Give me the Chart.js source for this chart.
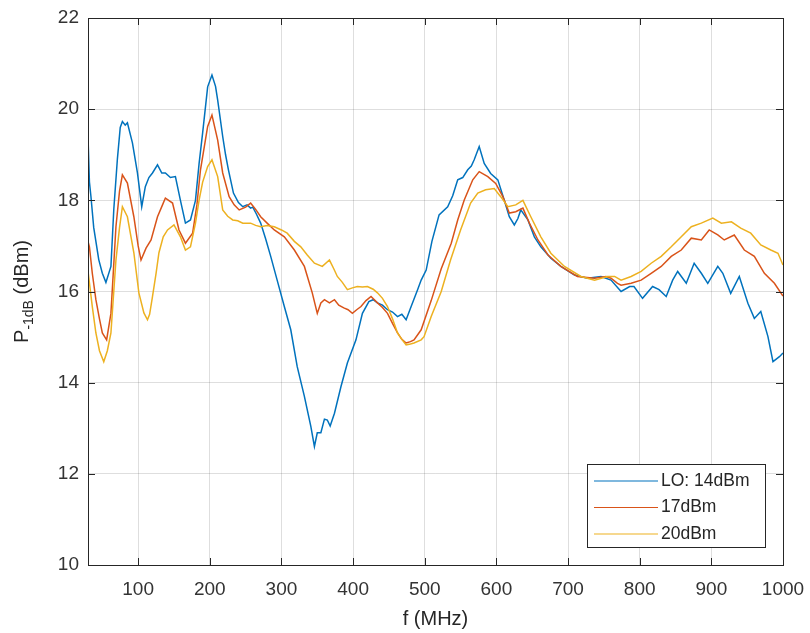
<!DOCTYPE html>
<html>
<head>
<meta charset="utf-8">
<script src="https://cdn.jsdelivr.net/npm/chart.js@4"></script>
<style>
  html, body { margin: 0; padding: 0; background: #fff; }
  #wrap { width: 810px; height: 633px; }
</style>
</head>
<body>
<div id="wrap"><canvas id="p1dbChart" width="810" height="633"></canvas></div>
<script>
// measured P-1dB vs frequency for three LO drive levels
var seriesLabels = ["LO: 14dBm", "17dBm", "20dBm"];
var seriesColors = ["#0072BD", "#D95319", "#EDB120"];

var freqLO14 = [30,32,34,38,45,50,55,62,66,71,75,78,82,85,92,99,105,110,115,120,127,133,138,145,152,159,166,173,180,185,190,197,203,208,211,218,222,226,233,240,246,252,257,260,265,271,278,285,294,304,313,322,332,341,346,350,355,360,364,368,374,383,392,404,413,422,428,434,441,448,455,462,468,474,481,490,495,502,510,520,532,539,546,553,560,565,569,576,583,592,602,611,618,625,630,634,644,653,662,676,690,709,727,746,760,774,786,792,804,818,827,837,846,853,865,876,886,895,909,916,927,939,951,960,969,979,986,995,1000];
var pLO14 = [19.4,18.4,18.1,17.4,16.7,16.4,16.2,16.55,17.8,18.9,19.6,19.73,19.65,19.7,19.26,18.6,17.86,18.3,18.5,18.6,18.78,18.6,18.6,18.5,18.52,18.0,17.5,17.57,18.0,18.8,19.48,20.49,20.75,20.5,20.2,19.4,19.0,18.67,18.16,17.95,17.86,17.9,17.83,17.85,17.7,17.5,17.15,16.77,16.25,15.67,15.16,14.35,13.7,13.04,12.6,12.9,12.9,13.2,13.18,13.05,13.33,13.91,14.43,14.94,15.52,15.78,15.82,15.75,15.7,15.6,15.55,15.45,15.5,15.38,15.67,16.04,16.25,16.47,17.1,17.68,17.86,18.1,18.45,18.5,18.67,18.75,18.89,19.18,18.81,18.59,18.45,18.0,17.64,17.46,17.6,17.79,17.57,17.2,16.98,16.73,16.55,16.36,16.29,16.33,16.25,16.0,16.11,16.11,15.85,16.11,16.04,15.89,16.25,16.44,16.18,16.62,16.4,16.18,16.55,16.4,15.96,16.33,15.74,15.41,15.56,15.01,14.46,14.57,14.65];

var freqLO17 = [30,32,36,41,46,50,56,62,69,74,78,85,94,100,104,111,118,127,134,138,148,157,166,176,182,187,197,203,211,218,227,234,241,250,257,264,271,280,290,304,318,332,343,350,355,360,367,374,380,387,393,399,405,411,418,425,434,441,448,455,462,468,474,480,485,495,509,523,537,546,555,567,576,588,599,609,618,627,637,646,658,672,690,713,737,753,760,769,774,788,802,816,830,844,858,872,886,897,909,918,932,946,960,974,988,1000];
var pLO17 = [17.1,16.98,16.4,15.82,15.4,15.09,14.94,15.52,17.42,18.2,18.56,18.38,17.64,17.0,16.69,16.95,17.13,17.64,17.9,18.05,17.94,17.35,17.06,17.28,17.9,18.67,19.62,19.87,19.32,18.6,18.08,17.9,17.79,17.85,17.94,17.8,17.64,17.5,17.35,17.2,16.91,16.55,15.97,15.52,15.75,15.82,15.75,15.82,15.7,15.64,15.6,15.52,15.6,15.67,15.8,15.89,15.75,15.65,15.52,15.3,15.09,14.95,14.87,14.9,14.94,15.16,15.8,16.5,17.06,17.57,18.0,18.45,18.63,18.52,18.37,18.08,17.72,17.75,17.83,17.5,17.13,16.8,16.55,16.33,16.29,16.33,16.29,16.18,16.14,16.18,16.25,16.4,16.55,16.77,16.91,17.17,17.13,17.35,17.24,17.13,17.24,16.91,16.77,16.4,16.18,15.9];

var freqLO20 = [30,36,41,46,52,57,62,69,74,78,85,94,101,108,113,116,120,125,129,135,141,150,159,166,173,180,185,190,197,203,211,218,225,232,239,246,257,264,271,280,290,300,308,318,327,336,346,357,367,373,378,385,392,399,406,413,420,428,434,441,448,455,462,468,474,480,485,495,499,509,523,536,550,564,574,585,597,606,616,627,637,648,662,676,695,718,737,755,765,774,788,802,816,830,844,858,872,886,902,914,928,941,955,969,983,993,1000];
var pLO20 = [16.45,15.67,15.09,14.7,14.46,14.7,15.09,16.69,17.4,17.86,17.64,16.85,15.97,15.53,15.38,15.5,15.89,16.4,16.85,17.2,17.35,17.46,17.2,16.91,16.98,17.5,18.0,18.4,18.74,18.89,18.52,17.79,17.65,17.57,17.55,17.5,17.5,17.45,17.42,17.45,17.42,17.35,17.28,17.1,16.98,16.8,16.62,16.55,16.69,16.5,16.33,16.2,16.04,16.08,16.11,16.1,16.11,16.05,15.97,15.85,15.67,15.4,15.09,14.95,14.83,14.85,14.87,14.94,15.01,15.45,16.0,16.69,17.35,17.94,18.16,18.23,18.26,18.08,17.86,17.9,18.0,17.64,17.2,16.84,16.55,16.33,16.25,16.33,16.33,16.25,16.33,16.44,16.62,16.77,16.98,17.2,17.42,17.5,17.61,17.5,17.53,17.39,17.28,17.02,16.91,16.84,16.58];

var xTicks = [100,200,300,400,500,600,700,800,900,1000];
var yTicks = [10,12,14,16,18,20,22];

function toPoints(fs, ps) {
    return fs.map(function(f, i){ return {x: f, y: ps[i]}; });
}
var seriesData = [toPoints(freqLO14, pLO14), toPoints(freqLO17, pLO17), toPoints(freqLO20, pLO20)];

var axisColor = "#262626";
var labelFont = "Liberation Sans, Arial, Helvetica, sans-serif";

// box, inward tick marks, axis titles and the legend
var framePlugin = {
    id: "frame",
    afterDraw: function(chart) {
        var ctx = chart.ctx, a = chart.chartArea;
        var xs = chart.scales.x, ys = chart.scales.y;
        ctx.save();
        ctx.strokeStyle = axisColor;
        ctx.lineWidth = 1;
        ctx.strokeRect(Math.round(a.left) + 0.5, Math.round(a.top) + 0.5,
                       Math.round(a.right - a.left), Math.round(a.bottom - a.top));
        ctx.beginPath();
        xTicks.forEach(function(v){
            var px = Math.round(xs.getPixelForValue(v)) + 0.5;
            ctx.moveTo(px, a.bottom); ctx.lineTo(px, a.bottom - 7);
            ctx.moveTo(px, a.top); ctx.lineTo(px, a.top + 7);
        });
        yTicks.forEach(function(v){
            var py = Math.round(ys.getPixelForValue(v)) + 0.5;
            ctx.moveTo(a.left, py); ctx.lineTo(a.left + 7, py);
            ctx.moveTo(a.right, py); ctx.lineTo(a.right - 7, py);
        });
        ctx.stroke();

        // x title
        ctx.fillStyle = axisColor;
        ctx.font = "20px " + labelFont;
        ctx.textAlign = "center";
        ctx.textBaseline = "middle";
        ctx.fillText("f (MHz)", (a.left + a.right) / 2, 619);

        // y title with subscript
        var big = "20px " + labelFont, small = "14px " + labelFont;
        ctx.font = big;
        var wP = ctx.measureText("P").width;
        var wU = ctx.measureText(" (dBm)").width;
        ctx.font = small;
        var wS = ctx.measureText("-1dB").width;
        var total = wP + wS + wU;
        ctx.translate(28, (a.top + a.bottom) / 2);
        ctx.rotate(-Math.PI / 2);
        ctx.textAlign = "left";
        ctx.textBaseline = "alphabetic";
        var x0 = -total / 2;
        ctx.font = big;
        ctx.fillText("P", x0, 0);
        ctx.font = small;
        ctx.fillText("-1dB", x0 + wP, 5);
        ctx.font = big;
        ctx.fillText(" (dBm)", x0 + wP + wS, 0);
        ctx.restore();

        // legend
        ctx.save();
        var bx = 587.5, by = 464.5, bw = 178, bh = 83;
        ctx.fillStyle = "#fff";
        ctx.fillRect(bx, by, bw, bh);
        ctx.strokeStyle = axisColor;
        ctx.lineWidth = 1;
        ctx.strokeRect(bx, by, bw, bh);
        ctx.font = "17.5px " + labelFont;
        ctx.textBaseline = "middle";
        ctx.textAlign = "left";
        chart.data.datasets.forEach(function(ds, i){
            var ly = 481 + i * 26.5;
            ctx.strokeStyle = ds.borderColor;
            ctx.lineWidth = 1.2;
            ctx.beginPath();
            ctx.moveTo(594, ly); ctx.lineTo(658, ly);
            ctx.stroke();
            ctx.fillStyle = axisColor;
            ctx.fillText(ds.label, 661, ly);
        });
        ctx.restore();
    }
};

new Chart("p1dbChart", {
    type: "line",
    data: {
        datasets: seriesLabels.map(function(lbl, i){
            return {
                label: lbl,
                data: seriesData[i],
                borderColor: seriesColors[i],
                borderWidth: 1.5,
                pointRadius: 0,
                tension: 0,
                fill: false,
                order: 2 - i
            };
        })
    },
    options: {
        responsive: false,
        animation: false,
        layout: { padding: { left: 0, top: 18, right: 27, bottom: 0 } },
        plugins: {
            legend: { display: false },
            tooltip: { enabled: false }
        },
        scales: {
            x: {
                type: "linear",
                min: 30,
                max: 1000,
                afterBuildTicks: function(scale){
                    scale.ticks = xTicks.map(function(v){ return {value: v}; });
                },
                afterFit: function(scale){
                    scale.height = 68;
                    scale.paddingRight = 0;
                },
                grid: { color: "rgba(0,0,0,0.13)", drawTicks: false },
                border: { display: false },
                ticks: {
                    padding: 13,
                    color: "#333",
                    maxRotation: 0,
                    font: { family: labelFont, size: 19 },
                    callback: function(v){ return String(v); }
                }
            },
            y: {
                type: "linear",
                min: 10,
                max: 22,
                afterBuildTicks: function(scale){
                    scale.ticks = yTicks.map(function(v){ return {value: v}; });
                },
                afterFit: function(scale){
                    scale.width = 88;
                    scale.paddingTop = 0;
                    scale.paddingBottom = 0;
                },
                grid: { color: "rgba(0,0,0,0.13)", drawTicks: false },
                border: { display: false },
                ticks: {
                    padding: 9,
                    color: "#333",
                    font: { family: labelFont, size: 19 },
                    callback: function(v){ return String(v); }
                }
            }
        }
    },
    plugins: [framePlugin]
});
</script>
</body>
</html>
